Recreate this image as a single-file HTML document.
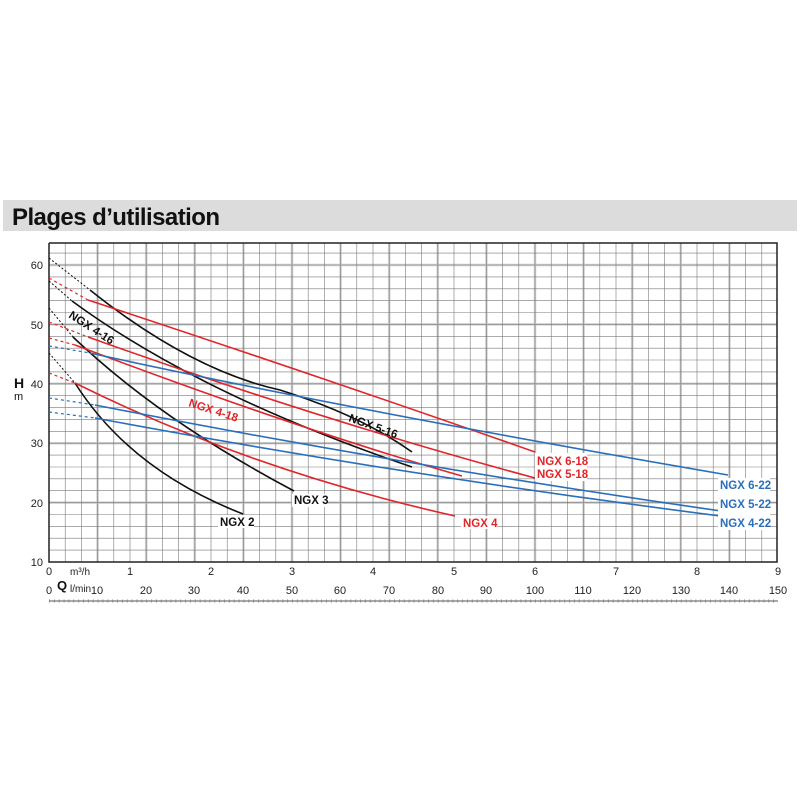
<!DOCTYPE html>
<html><head><meta charset="utf-8"><style>
body{margin:0;background:#fff;}
svg{display:block;font-family:"Liberation Sans",sans-serif;}
</style></head><body>
<svg width="800" height="800" viewBox="0 0 800 800">
<rect x="3" y="200" width="794" height="31" fill="#dcdcdc"/>
<text x="12" y="225" font-size="24" font-weight="bold" fill="#111" textLength="208">Plages d’utilisation</text>
<g stroke="#d0d0d0" stroke-width="2.5">
<path d="M97.6 243V562M146.2 243V562M194.8 243V562M243.4 243V562M292 243V562M340.6 243V562M389.2 243V562M437.8 243V562M486.4 243V562M535 243V562M583.6 243V562M632.2 243V562M680.8 243V562M729.4 243V562"/>
<path d="M49 502.6H777M49 443.2H777M49 383.8H777M49 324.4H777M49 265H777"/>
</g>
<g stroke="#7a7a7a" stroke-width="0.6">
<path d="M65.2 243V562M81.4 243V562M97.6 243V562M113.8 243V562M130 243V562M146.2 243V562M162.4 243V562M178.6 243V562M194.8 243V562M211 243V562M227.2 243V562M243.4 243V562M259.6 243V562M275.8 243V562M292 243V562M308.2 243V562M324.4 243V562M340.6 243V562M356.8 243V562M373 243V562M389.2 243V562M405.4 243V562M421.6 243V562M437.8 243V562M454 243V562M470.2 243V562M486.4 243V562M502.6 243V562M518.8 243V562M535 243V562M551.2 243V562M567.4 243V562M583.6 243V562M599.8 243V562M616 243V562M632.2 243V562M648.4 243V562M664.6 243V562M680.8 243V562M697 243V562M713.2 243V562M729.4 243V562M745.6 243V562M761.8 243V562"/>
<path d="M49 550.1H777M49 538.2H777M49 526.4H777M49 514.5H777M49 502.6H777M49 490.7H777M49 478.8H777M49 467H777M49 455.1H777M49 443.2H777M49 431.3H777M49 419.4H777M49 407.6H777M49 395.7H777M49 383.8H777M49 371.9H777M49 360H777M49 348.2H777M49 336.3H777M49 324.4H777M49 312.5H777M49 300.6H777M49 288.8H777M49 276.9H777M49 265H777M49 253.1H777"/>
</g>
<path d="M49 243V562H777V243H49" fill="none" stroke="#222" stroke-width="1.5"/>
<g font-size="11" fill="#222" text-anchor="end">
<text x="43" y="566">10</text><text x="43" y="507">20</text><text x="43" y="447">30</text><text x="43" y="388">40</text><text x="43" y="329">50</text><text x="43" y="269">60</text>
</g>
<text x="14" y="388" font-size="14" font-weight="bold" fill="#111">H</text>
<text x="14" y="400" font-size="11" fill="#111">m</text>
<g font-size="11" fill="#222" text-anchor="middle">
<text x="49" y="575">0</text><text x="130" y="575">1</text><text x="211" y="575">2</text><text x="292" y="575">3</text><text x="373" y="575">4</text><text x="454" y="575">5</text><text x="535" y="575">6</text><text x="616" y="575">7</text><text x="697" y="575">8</text><text x="778" y="575">9</text>
<text x="49" y="594">0</text><text x="97" y="594">10</text><text x="146" y="594">20</text><text x="194" y="594">30</text><text x="243" y="594">40</text><text x="292" y="594">50</text><text x="340" y="594">60</text><text x="389" y="594">70</text><text x="438" y="594">80</text><text x="486" y="594">90</text><text x="535" y="594">100</text><text x="583" y="594">110</text><text x="632" y="594">120</text><text x="681" y="594">130</text><text x="729" y="594">140</text><text x="778" y="594">150</text>
</g>
<text x="70" y="575" font-size="10" fill="#222">m³/h</text>
<text x="57" y="590" font-size="13" font-weight="bold" fill="#111">Q</text>
<text x="70" y="592" font-size="10" fill="#222">l/min</text>
<path d="M49 601H778" stroke="#555" stroke-width="1"/>
<path d="M49 601H778" stroke="#888" stroke-width="3" stroke-dasharray="1 3.86"/>
<g fill="none" stroke-width="1.6">
<g stroke="#111">
<path d="M49 353L75 383" stroke-dasharray="2 2" stroke-width="1"/>
<path d="M75 383Q130 470 243 514"/>
<path d="M49 308L73 337" stroke-dasharray="2 2" stroke-width="1"/>
<path d="M73 337Q160 420 294 491"/>
<path d="M49 281L72 301" stroke-dasharray="2 2" stroke-width="1"/>
<path d="M72 301Q200 395 412 467"/>
<path d="M49 258L90 290" stroke-dasharray="2 2" stroke-width="1"/>
<path d="M90 290Q190 370 280 390Q360 415 412 452"/>
</g>
<g stroke="#e0262a">
<path d="M49 278L88 300" stroke-dasharray="3 3" stroke-width="1.2"/>
<path d="M88 300Q330 380 535 452"/>
<path d="M49 322L88 337" stroke-dasharray="3 3" stroke-width="1.2"/>
<path d="M88 337Q320 420 535 478"/>
<path d="M49 338L75 345" stroke-dasharray="3 3" stroke-width="1.2"/>
<path d="M75 345Q300 430 462 476"/>
<path d="M49 373L75 383" stroke-dasharray="3 3" stroke-width="1.2"/>
<path d="M75 383Q250 470 455 516"/>
</g>
<g stroke="#2a6fbb">
<path d="M49 346L90 353" stroke-dasharray="3 3" stroke-width="1.2"/>
<path d="M90 353Q350 410 728 475"/>
<path d="M49 398L95 405" stroke-dasharray="3 3" stroke-width="1.2"/>
<path d="M95 405Q400 465 728 512"/>
<path d="M49 412L95 418" stroke-dasharray="3 3" stroke-width="1.2"/>
<path d="M95 418Q400 475 728 517"/>
</g>
</g>
<g font-size="11.5" font-weight="bold">
<g fill="#111">
<text x="68" y="317" transform="rotate(33 68 317)">NGX 4-16</text>
<text x="348" y="421" transform="rotate(20 348 421)">NGX 5-16</text>
<rect x="292" y="494" width="36" height="13" fill="#fff"/><text x="294" y="504">NGX 3</text>
<rect x="218" y="515" width="36" height="13" fill="#fff"/><text x="220" y="526">NGX 2</text>
</g>
<g fill="#e0262a">
<text x="188" y="406" transform="rotate(18 188 406)">NGX 4-18</text>
<rect x="535" y="453" width="52" height="28" fill="#fff"/>
<text x="537" y="465">NGX 6-18</text><text x="537" y="478">NGX 5-18</text>
<rect x="461" y="516" width="36" height="13" fill="#fff"/><text x="463" y="527">NGX 4</text>
</g>
<g fill="#2a6fbb">
<rect x="718" y="478" width="52" height="52" fill="#fff"/>
<text x="720" y="489">NGX 6-22</text><text x="720" y="508">NGX 5-22</text><text x="720" y="527">NGX 4-22</text>
</g>
</g>
</svg>
</body></html>
